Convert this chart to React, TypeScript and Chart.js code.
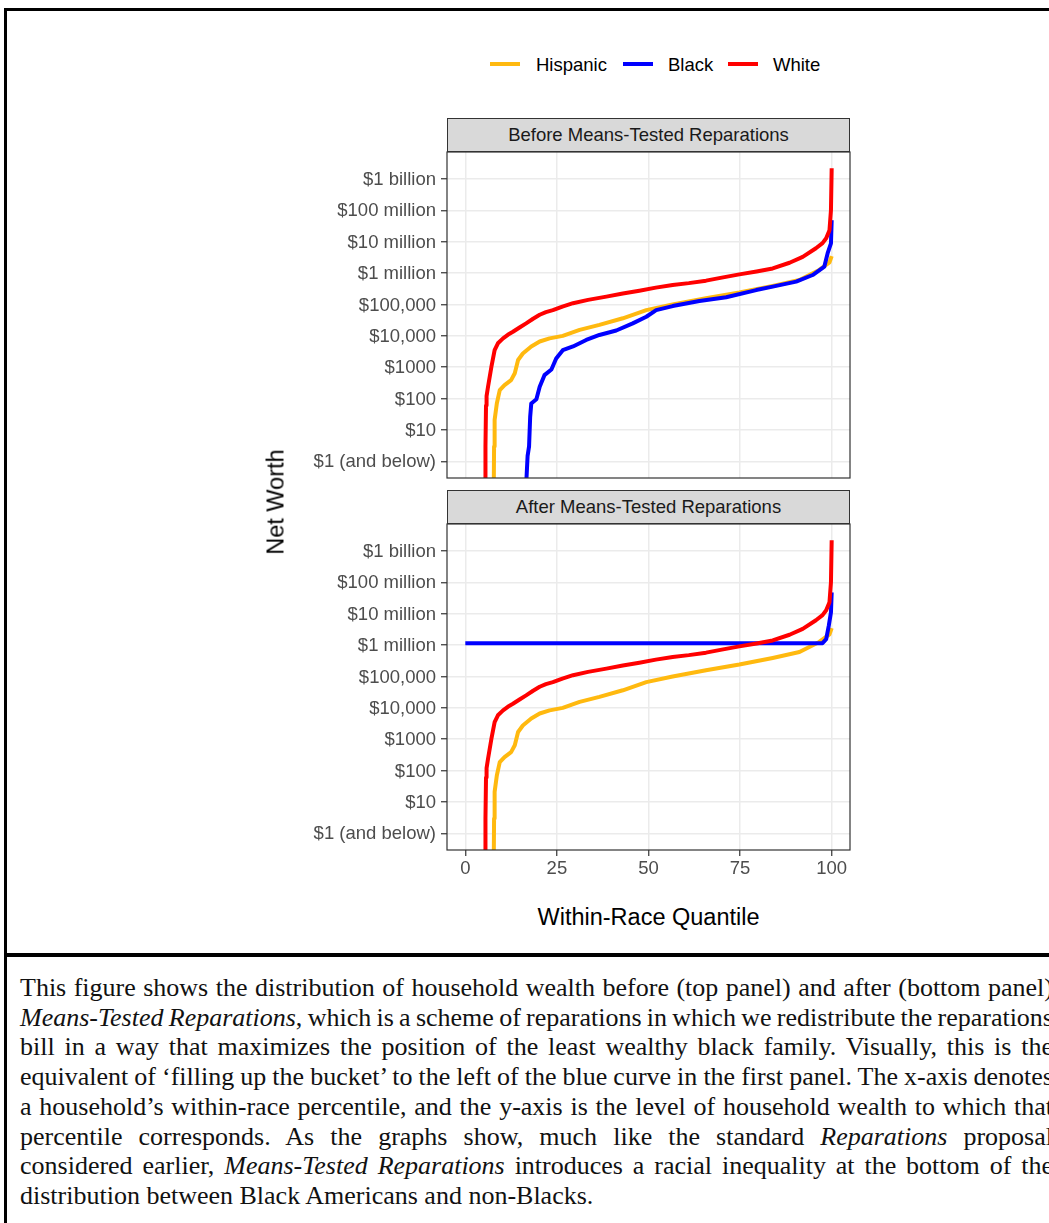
import React, { useEffect, useRef } from "react";
import { Chart, registerables } from "chart.js";

Chart.register(...registerables);

// ---------- data ----------
const quantileTicks = [0, 25, 50, 75, 100];
const wealthTicks = [1, 10, 100, 1000, 1e4, 1e5, 1e6, 1e7, 1e8, 1e9];
const wealthTickLabels = [
  "$1 (and below)",
  "$10",
  "$100",
  "$1000",
  "$10,000",
  "$100,000",
  "$1 million",
  "$10 million",
  "$100 million",
  "$1 billion",
];
const raceNames = ["Hispanic", "Black", "White"];
const raceColors = ["#FFB90F", "#0000FF", "#FF0000"];
const panelTitles = ["Before Means-Tested Reparations", "After Means-Tested Reparations"];
const xAxisTitle = "Within-Race Quantile";
const yAxisTitle = "Net Worth";

const whiteQuantile = [5.4, 5.5, 5.65, 5.8, 6.2, 7.1, 8.0, 8.9, 10.3, 11.6, 13.0, 14.8, 16.6, 18.5, 20.3, 22.0, 23.9, 26.5, 29.4, 33.5, 38.5, 43.0, 47.5, 52.0, 56.6, 61.0, 65.7, 70.0, 74.8, 79.5, 83.9, 88.5, 92.1, 95.7, 97.5, 98.5, 99.4, 99.8, 100];
const whiteWealth = [0.1, 3, 60, 120, 240, 1000, 3500, 5800, 8300, 10800, 13500, 18500, 25000, 35000, 47000, 57000, 66000, 86000, 110000, 140000, 178000, 225000, 275000, 345000, 417000, 480000, 575000, 720000, 912000, 1130000, 1410000, 2140000, 3300000, 6200000, 9000000, 12900000, 23400000, 100000000, 2200000000];

const hispanicQuantile = [7.75, 7.85, 8.0, 8.6, 9.4, 10.7, 12.5, 13.5, 14.4, 15.7, 18.0, 20.3, 23.0, 26.6, 31.2, 36.6, 43.0, 49.4, 56.6, 65.7, 74.8, 83.9, 91.2, 96.6, 99.4, 100];
const hispanicWealth = [0.1, 3, 21, 70, 186, 270, 390, 645, 1700, 2750, 4600, 6600, 8300, 10000, 15500, 22400, 36300, 66000, 100000, 158000, 240000, 390000, 600000, 1260000, 2200000, 3500000];

const blackBeforeQuantile = [16.5, 17.0, 17.4, 17.7, 18.0, 19.4, 20.3, 21.6, 23.5, 24.8, 26.6, 29.4, 33.0, 36.6, 41.2, 45.7, 49.4, 52.1, 56.6, 63.9, 71.2, 79.4, 83.9, 90.3, 94.8, 98.0, 98.9, 99.8, 100];
const blackBeforeWealth = [0.1, 1.5, 3, 26, 70, 95, 240, 560, 850, 1900, 3500, 4600, 7400, 10700, 14800, 25000, 40700, 66000, 89000, 129000, 170000, 288000, 372000, 537000, 870000, 1620000, 4300000, 8900000, 49000000];

const blackAfterQuantile = [0, 97.5, 98.5, 99.2, 99.8, 100];
const blackAfterWealth = [1150000, 1150000, 1550000, 4100000, 11000000, 48000000];

const captionLines: React.ReactNode[] = [
  <>This figure shows the distribution of household wealth before (top panel) and after (bottom panel)</>,
  <><i>Means-Tested Reparations</i>, which is a scheme of reparations in which we redistribute the reparations</>,
  <>bill in a way that maximizes the position of the least wealthy black family. Visually, this is the</>,
  <>equivalent of ‘filling up the bucket’ to the left of the blue curve in the first panel. The x-axis denotes</>,
  <>a household’s within-race percentile, and the y-axis is the level of household wealth to which that</>,
  <>percentile corresponds. As the graphs show, much like the standard <i>Reparations</i> proposal</>,
  <>considered earlier, <i>Means-Tested Reparations</i> introduces a racial inequality at the bottom of the</>,
  <>distribution between Black Americans and non-Blacks.</>,
];

// ---------- helpers ----------
const SANS = "'Liberation Sans', Arial, Helvetica, sans-serif";
const SERIF = "'Liberation Serif', 'Times New Roman', serif";

const toPoints = (q: number[], w: number[]) => q.map((x, i) => ({ x, y: w[i] }));

const panelFrame = {
  id: "panelFrame",
  afterDatasetsDraw(chart: any) {
    const { ctx, chartArea } = chart;
    ctx.save();
    ctx.strokeStyle = "#333333";
    ctx.lineWidth = 1.2;
    ctx.strokeRect(chartArea.left, chartArea.top, chartArea.right - chartArea.left, chartArea.bottom - chartArea.top);
    ctx.restore();
  },
};

const CANVAS_LEFT = 250;
const Y_AXIS_WIDTH = 197;
const PAD = 18;

function PanelChart(props: { top: number; height: number; showX: boolean; blackQ: number[]; blackW: number[] }) {
  const ref = useRef<HTMLCanvasElement>(null);
  const { top, height, showX, blackQ, blackW } = props;
  useEffect(() => {
    const tickFont = { family: SANS, size: 18.5 };
    const lineDs = (idx: number, data: any, order: number) => ({
      label: raceNames[idx],
      data,
      borderColor: raceColors[idx],
      backgroundColor: raceColors[idx],
      borderWidth: 4,
      pointRadius: 0,
      tension: 0,
      fill: false,
      borderJoinStyle: "round" as const,
      order,
    });
    const chart = new Chart(ref.current!, {
      type: "line",
      data: {
        datasets: [
          lineDs(0, toPoints(hispanicQuantile, hispanicWealth), 3),
          lineDs(1, toPoints(blackQ, blackW), 2),
          lineDs(2, toPoints(whiteQuantile, whiteWealth), 1),
        ],
      },
      options: {
        animation: false,
        responsive: false,
        events: [],
        layout: { padding: { top: PAD, right: 20, bottom: showX ? 0 : PAD, left: 0 } },
        plugins: { legend: { display: false }, tooltip: { enabled: false }, title: { display: false } },
        scales: {
          x: {
            type: "linear",
            min: -5,
            max: 105,
            afterBuildTicks: (s: any) => {
              s.ticks = quantileTicks.map((v) => ({ value: v }));
            },
            afterFit: (s: any) => {
              s.height = showX ? 45 : 0;
            },
            grid: {
              color: "#EBEBEB",
              lineWidth: 1.5,
              drawTicks: showX,
              tickLength: 6,
              tickColor: "#333333",
              tickWidth: 1.2,
            },
            border: { display: false },
            ticks: {
              display: showX,
              padding: 2,
              color: "#4D4D4D",
              font: tickFont,
              maxRotation: 0,
              autoSkip: false,
              callback: (v: any) => String(v),
            },
          },
          y: {
            type: "logarithmic",
            min: Math.pow(10, -0.53),
            max: Math.pow(10, 9.86),
            afterBuildTicks: (s: any) => {
              s.ticks = wealthTicks.map((v) => ({ value: v }));
            },
            afterFit: (s: any) => {
              s.width = Y_AXIS_WIDTH;
            },
            grid: {
              color: "#EBEBEB",
              lineWidth: 1.5,
              drawTicks: true,
              tickLength: 6,
              tickColor: "#333333",
              tickWidth: 1.2,
            },
            border: { display: false },
            ticks: {
              padding: 5,
              color: "#4D4D4D",
              font: tickFont,
              autoSkip: false,
              labelOffset: 1,
              callback: (_v: any, i: number) => wealthTickLabels[i],
            },
          },
        },
      } as any,
      plugins: [panelFrame],
    });
    return () => chart.destroy();
  }, []);
  const width = 870 - CANVAS_LEFT;
  return (
    <canvas
      ref={ref}
      width={width}
      height={height}
      style={{ position: "absolute", left: CANVAS_LEFT, top, width, height }}
    />
  );
}

function Strip(props: { top: number; text: string }) {
  return (
    <div
      style={{
        position: "absolute",
        left: 447,
        top: props.top,
        width: 403,
        height: 34,
        boxSizing: "border-box",
        border: "1.2px solid #333333",
        background: "#D9D9D9",
        color: "#1A1A1A",
        fontFamily: SANS,
        fontSize: 18.5,
        lineHeight: "32px",
        textAlign: "center",
        whiteSpace: "nowrap",
      }}
    >
      {props.text}
    </div>
  );
}

const legendKeyLeft = [490, 623, 728];
const legendTextLeft = [536, 668, 773];

export default function App() {
  return (
    <div
      style={{
        position: "fixed",
        left: 0,
        top: 0,
        width: 1049,
        height: 1223,
        overflow: "hidden",
        background: "#FFFFFF",
      }}
    >
      {/* figure frame */}
      <div
        style={{
          position: "absolute",
          left: 4,
          top: 8,
          width: 1100,
          height: 949,
          boxSizing: "border-box",
          borderTop: "3px solid #000",
          borderLeft: "3px solid #000",
          borderRight: "3px solid #000",
          borderBottom: "4px solid #000",
        }}
      />
      <div style={{ position: "absolute", left: 4, top: 957, width: 3, height: 300, background: "#000" }} />

      {/* legend */}
      {raceNames.map((name, i) => (
        <React.Fragment key={name}>
          <div
            style={{
              position: "absolute",
              left: legendKeyLeft[i],
              top: 61.5,
              width: 30,
              height: 4,
              background: raceColors[i],
            }}
          />
          <div
            style={{
              position: "absolute",
              left: legendTextLeft[i],
              top: 53.5,
              fontFamily: SANS,
              fontSize: 18.5,
              lineHeight: "22px",
              color: "#000",
              whiteSpace: "nowrap",
            }}
          >
            {name}
          </div>
        </React.Fragment>
      ))}

      {/* panels */}
      <PanelChart top={152 - PAD} height={326 + 2 * PAD} showX={false} blackQ={blackBeforeQuantile} blackW={blackBeforeWealth} />
      <PanelChart top={524 - PAD} height={326 + PAD + 45} showX={true} blackQ={blackAfterQuantile} blackW={blackAfterWealth} />
      <Strip top={118} text={panelTitles[0]} />
      <Strip top={490} text={panelTitles[1]} />

      {/* axis titles */}
      <div
        style={{
          position: "absolute",
          left: 648.5,
          top: 917,
          transform: "translate(-50%, -50%)",
          fontFamily: SANS,
          fontSize: 23.5,
          lineHeight: "27px",
          color: "#000",
          whiteSpace: "nowrap",
        }}
      >
        {xAxisTitle}
      </div>
      <div
        style={{
          position: "absolute",
          left: 276,
          top: 502,
          transform: "translate(-50%, -50%) rotate(-90deg)",
          fontFamily: SANS,
          fontSize: 23.5,
          lineHeight: "27px",
          color: "#000",
          whiteSpace: "nowrap",
        }}
      >
        {yAxisTitle}
      </div>

      {/* caption */}
      {captionLines.map((line, i) => {
        const last = i === captionLines.length - 1;
        return (
          <div
            key={i}
            style={{
              position: "absolute",
              left: 20,
              top: 973 + i * 29.7,
              width: 1033,
              fontFamily: SERIF,
              fontSize: 26,
              lineHeight: "29.7px",
              color: "#111",
              wordSpacing: last ? 0 : -3,
              textAlign: last ? "left" : "justify",
              textAlignLast: last ? "left" : "justify",
            }}
          >
            {line}
          </div>
        );
      })}
    </div>
  );
}
